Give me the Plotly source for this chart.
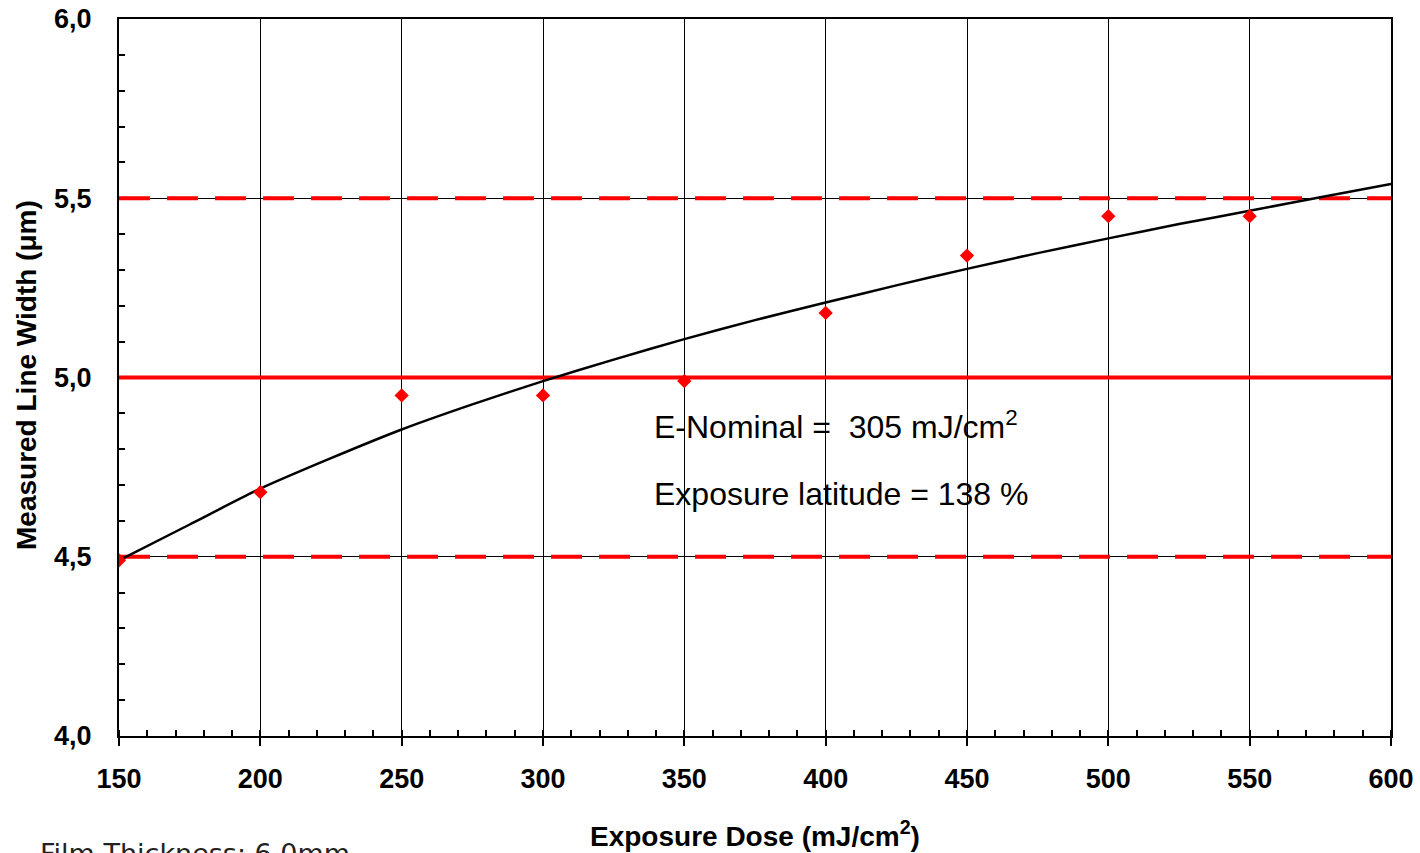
import plotly.graph_objects as go

# Measured line width at each exposure dose
dose = [150, 200, 250, 300, 350, 400, 450, 500, 550]
width = [4.49, 4.68, 4.95, 4.95, 4.99, 5.18, 5.34, 5.45, 5.45]

# Fitted trend curve
fit_dose = [150, 175, 200, 225, 250, 275, 300, 325, 350, 375, 400,
            425, 450, 475, 500, 525, 550, 575, 600]
fit_width = [4.49, 4.59, 4.69, 4.775, 4.855, 4.925, 4.99, 5.05, 5.107, 5.16,
             5.209, 5.257, 5.303, 5.347, 5.388, 5.428, 5.465, 5.503, 5.54]

# Target width and tolerance limits
target = 5.0
lower_limit = 4.5
upper_limit = 5.5

x_range = [150, 600]
y_range = [4.0, 6.0]

fig = go.Figure()

fig.add_trace(go.Scatter(
    x=x_range, y=[upper_limit, upper_limit], mode="lines",
    line=dict(color="#ff0000", width=4, dash="31px,17px"), hoverinfo="skip"))
fig.add_trace(go.Scatter(
    x=x_range, y=[lower_limit, lower_limit], mode="lines",
    line=dict(color="#ff0000", width=4, dash="31px,17px"), hoverinfo="skip"))
fig.add_trace(go.Scatter(
    x=x_range, y=[target, target], mode="lines",
    line=dict(color="#ff0000", width=4), hoverinfo="skip"))

fig.add_trace(go.Scatter(
    x=fit_dose, y=fit_width, mode="lines",
    line=dict(color="black", width=2.5, shape="spline", smoothing=0.6)))

fig.add_trace(go.Scatter(
    x=dose, y=width, mode="markers",
    marker=dict(symbol="diamond", size=11, color="#ff0000")))

axis_font = dict(family="Liberation Sans, Arial, sans-serif", size=27,
                 color="black", weight="bold")

fig.update_layout(
    width=1420, height=853,
    margin=dict(l=119, r=29, t=19, b=117, autoexpand=False),
    paper_bgcolor="white", plot_bgcolor="white",
    showlegend=False,
    separators=",.",
    font=dict(family="Liberation Sans, Arial, sans-serif", color="black"),
    xaxis=dict(
        range=x_range, dtick=50, tick0=150, automargin=False,
        showgrid=True, gridcolor="black", gridwidth=1,
        showline=True, linecolor="black", linewidth=2, mirror=True,
        ticks="outside", ticklen=8, tickwidth=1.5, tickcolor="black",
        tickfont=axis_font, ticklabelstandoff=10,
        minor=dict(dtick=10, ticks="inside", ticklen=6, tickwidth=1.5,
                   tickcolor="black", showgrid=False),
        zeroline=False,
    ),
    yaxis=dict(
        range=y_range, dtick=0.5, tick0=4.0, tickformat=".1f", automargin=False,
        showgrid=True, gridcolor="black", gridwidth=1,
        showline=True, linecolor="black", linewidth=2, mirror=True,
        ticks="", tickfont=axis_font, ticklabelstandoff=20,
        minor=dict(dtick=0.1, ticks="inside", ticklen=6, tickwidth=1.5,
                   tickcolor="black", showgrid=False),
        zeroline=False,
    ),
)

title_font = dict(family="Liberation Sans, Arial, sans-serif", size=28, color="black")

fig.add_annotation(
    text="<b>Exposure Dose (mJ/cm<sup>2</sup>)</b>", xref="paper", yref="paper",
    x=0.5, y=(736 - 834) / 717, xanchor="center", yanchor="middle",
    showarrow=False, font=title_font)
fig.add_annotation(
    text="<b>Measured Line Width (μm)</b>", xref="paper", yref="paper",
    x=(26 - 119) / 1272, y=(736 - 375) / 717, xanchor="center", yanchor="middle",
    textangle=-90, showarrow=False, font=title_font)

note_font = dict(family="Liberation Sans, Arial, sans-serif", size=32, color="black")
fig.add_annotation(
    text="E-Nominal =  305 mJ/cm<sup>2</sup>", x=338.5, y=4.8675,
    xanchor="left", yanchor="middle", showarrow=False, font=note_font)
fig.add_annotation(
    text="Exposure latitude = 138 %", x=338.5, y=4.675,
    xanchor="left", yanchor="middle", showarrow=False, font=note_font)

fig.add_annotation(
    text="Film Thickness: 6.0mm", xref="paper", yref="paper",
    x=(38 - 119) / 1272, y=(736 - 836) / 717, xanchor="left", yanchor="top",
    showarrow=False,
    font=dict(family="DejaVu Sans, Verdana, sans-serif", size=27, color="#222222"))

fig.write_html("out.html")
